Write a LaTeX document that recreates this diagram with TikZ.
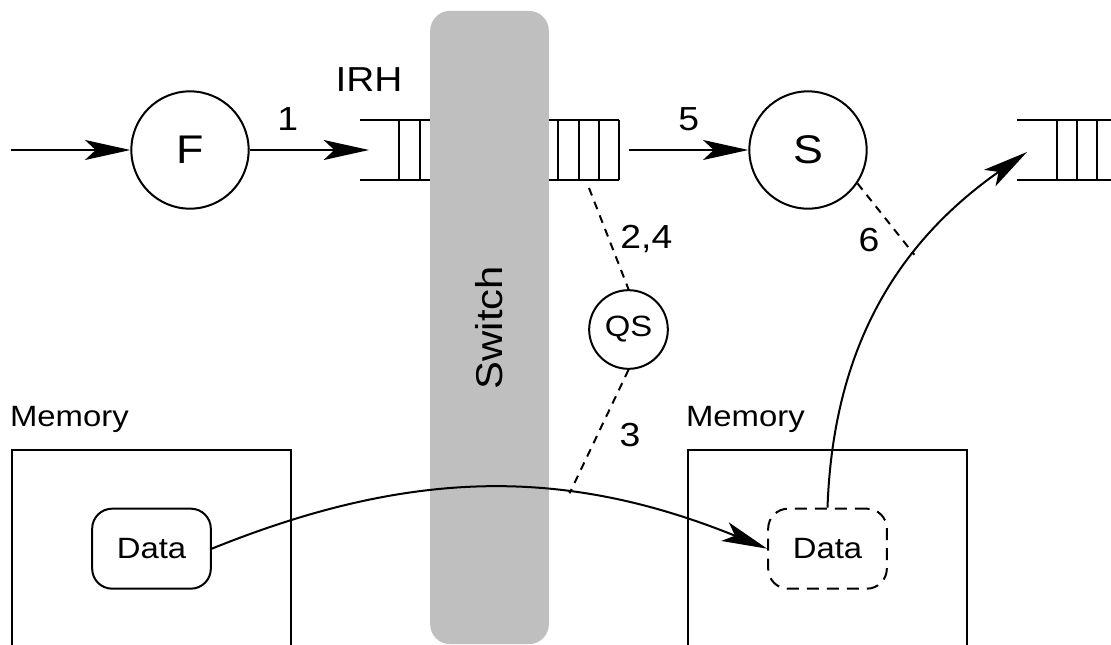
\documentclass[tikz,border=0pt]{standalone}
\usepackage{fontspec}
\setmainfont{Liberation Sans}[FakeStretch=1.12]
\usetikzlibrary{
  arrows.meta,
  positioning
}
\definecolor{SwitchGray}{HTML}{BFBFBF}
\tikzset{
  wire/.style={
    line width=1.5pt
  },
  flow/.style={
    wire,
    -{Stealth[length=34pt,width=15pt,inset=8pt]}
  },
  signal/.style={
    wire,
    dash pattern=on 6pt off 5pt
  },
  station/.style={
    circle,
    draw,
    wire,
    inner sep=0pt,
    minimum size=88pt,
    font=\fontsize{30}{30}\selectfont
  },
  qsnode/.style={
    station,
    minimum size=59pt,
    font=\fontsize{22}{22}\selectfont
  },
  membox/.style={
    draw,
    wire,
    minimum width=209pt,
    minimum height=175pt
  },
  memlabel/.style={
    inner sep=0pt,
    font=\fontsize{22}{22}\selectfont
  },
  datanode/.style={
    draw,
    wire,
    rounded corners=15pt,
    minimum width=89pt,
    minimum height=60pt,
    font=\fontsize{22}{22}\selectfont
  },
  steplabel/.style={
    inner sep=0pt,
    font=\fontsize{25}{25}\selectfont
  },
  switchbar/.style={
    fill=SwitchGray,
    rounded corners=15pt,
    rotate=90,
    minimum width=475pt,
    minimum height=89pt,
    font=\fontsize{28}{28}\selectfont
  }
}

\begin{document}
\begin{tikzpicture}[
  x=0.75pt,
  y=-0.75pt
]

  \useasboundingbox (0,0) rectangle (1111,644);

  % queues
  \draw[wire] (360,120) -- (619,120) (360,180) -- (619,180);
  \foreach \x in {399,420,558,579,599,619}
    \draw[wire] (\x,120) -- (\x,180);
  \draw[wire] (1017,120) -- (1111,120) (1017,180) -- (1111,180);
  \foreach \x in {1057,1077,1097}
    \draw[wire] (\x,120) -- (\x,180);

  \node[switchbar] (switch) at (489.5,327.5) {Switch};

  \node[station] (forwarder) at (190,150) {F};
  \node[station] (scheduler) at (808,150) {S};
  \node[qsnode] (qsched) at (628.5,329.5) {QS};

  \coordinate (arrival) at (11,150);
  \coordinate (irhin) at (369,150);
  \coordinate (voqout) at (629,150);
  \coordinate (voqtap) at (589,188);
  \coordinate (nextin) at (1027,152);

  \node[steplabel, font=\fontsize{26}{26}\selectfont, above=44pt of irhin] (irhlabel) {IRH};

  \node[membox, anchor=north] (memleft) at (151.5,449) {};
  \node[membox, anchor=north] (memright) at (827.5,449) {};
  \node[memlabel, above right=12pt and -1pt of memleft.north west] (memleftlabel) {Memory};
  \node[memlabel, above right=12pt and -1pt of memright.north west] (memrightlabel) {Memory};

  \node[datanode, below=44pt of memleft.north] (dataleft) {Data};
  \node[datanode, dash pattern=on 9pt off 6pt, below=44pt of memright.north] (dataright) {Data};

  \draw[flow] (arrival) -- (forwarder);
  \draw[flow] (forwarder) -- node[steplabel, pos=0.32, above=14pt] (step1) {1} (irhin);
  \draw[flow] (voqout) -- node[steplabel, midway, above=14pt] (step5) {5} (scheduler);

  \draw[flow] (dataleft.east) to[out=22, in=158] coordinate[pos=0.65] (hit3) (dataright.west);
  \draw[flow] (dataright.north) to[out=88, in=215] coordinate[pos=0.65] (hit6) (nextin);

  \draw[signal] (voqtap) -- node[steplabel, midway, right=8pt] (step24) {2,4} (qsched.north);
  \draw[signal] (qsched.south) -- node[steplabel, pos=0.53, right=16pt] (step3) {3} (hit3);
  \draw[signal] (scheduler.-34) -- node[steplabel, pos=0.8, left=17pt] (step6) {6} (hit6);

\end{tikzpicture}
\end{document}
